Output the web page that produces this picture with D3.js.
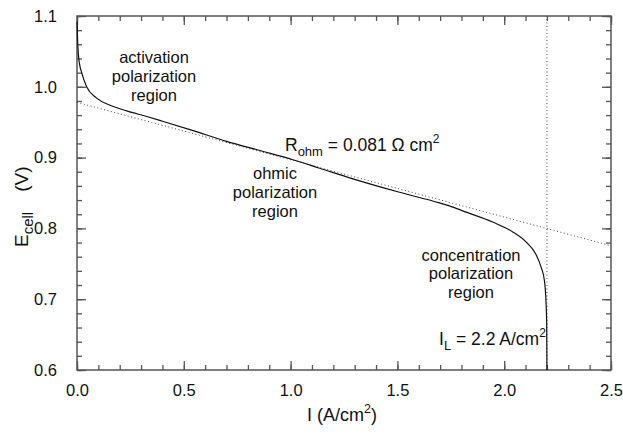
<!DOCTYPE html>
<html><head><meta charset="utf-8">
<script src="https://cdn.jsdelivr.net/npm/d3@7"></script>
<style>
body{margin:0;background:#fff;}
svg text{font-family:"Liberation Sans",Arial,sans-serif;fill:#111;}
</style></head><body>
<svg id="chart" width="623" height="434"></svg>
<script>
// Polarization curve: current density I (A/cm2), cell voltage E (V)
const currentI = [0.0005,0.002,0.006,0.012,0.022,0.045,0.092,0.155,0.233,0.327,0.404,0.544,0.700,0.856,1.011,1.136,1.292,1.510,1.697,1.759,1.822,1.946,2.040,2.102,2.149,2.173,2.188,2.196,2.199,2.2];
const cellE    = [1.092,1.074,1.048,1.032,1.020,1.000,0.984,0.974,0.966,0.958,0.951,0.938,0.923,0.910,0.897,0.885,0.870,0.851,0.836,0.830,0.823,0.809,0.795,0.781,0.763,0.745,0.727,0.694,0.666,0.6];
// Ohmic tangent line (R = 0.081 ohm cm2)
const ohmicI = [0, 2.5];
const ohmicE = [0.978, 0.7755];
// Limiting current line
const limitI = [2.2, 2.2];
const limitE = [0.6, 1.1];
const xTicks = [0, 0.5, 1.0, 1.5, 2.0, 2.5];
const yTicks = [0.6, 0.7, 0.8, 0.9, 1.0, 1.1];

const L = 77, R = 611, T = 16, B = 370;
const x = d3.scaleLinear().domain([0, 2.5]).range([L, R]);
const y = d3.scaleLinear().domain([0.6, 1.1]).range([B, T]);
const svg = d3.select("#chart");
const axisColor = "#555";

const xMinor = d3.range(0, 2.5001, 0.1).map(v => +v.toFixed(2));
const yMinor = d3.range(0.6, 1.1001, 0.02).map(v => +v.toFixed(2));

function styleAxis(g){
  g.select(".domain").remove();
  g.selectAll(".tick line").attr("stroke", axisColor).attr("stroke-width", 1.3);
}
function styleLabels(g){
  g.selectAll("text").attr("font-size", 16.5).attr("fill", "#111")
   .attr("font-family", "Liberation Sans, Arial, sans-serif");
}
svg.append("g").attr("transform", `translate(0,${B})`)
  .call(d3.axisBottom(x).tickValues(xMinor).tickSize(-5).tickFormat(""))
  .call(styleAxis);
svg.append("g").attr("transform", `translate(0,${B})`)
  .call(d3.axisBottom(x).tickValues(xTicks).tickSize(-9).tickPadding(14).tickFormat(d3.format(".1f")))
  .call(styleAxis).call(styleLabels);
svg.append("g").attr("transform", `translate(0,${T})`)
  .call(d3.axisTop(x).tickValues(xMinor).tickSize(-5).tickFormat("")).call(styleAxis);
svg.append("g").attr("transform", `translate(0,${T})`)
  .call(d3.axisTop(x).tickValues(xTicks).tickSize(-9).tickFormat("")).call(styleAxis);
svg.append("g").attr("transform", `translate(${L},0)`)
  .call(d3.axisLeft(y).tickValues(yMinor).tickSize(-5).tickFormat("")).call(styleAxis);
svg.append("g").attr("transform", `translate(${L},0)`)
  .call(d3.axisLeft(y).tickValues(yTicks).tickSize(-9).tickPadding(20).tickFormat(d3.format(".1f")))
  .call(styleAxis).call(styleLabels);
svg.append("g").attr("transform", `translate(${R},0)`)
  .call(d3.axisRight(y).tickValues(yMinor).tickSize(-5).tickFormat("")).call(styleAxis);
svg.append("g").attr("transform", `translate(${R},0)`)
  .call(d3.axisRight(y).tickValues(yTicks).tickSize(-9).tickFormat("")).call(styleAxis);

svg.append("rect").attr("x", L).attr("y", T).attr("width", R - L).attr("height", B - T)
  .attr("fill", "none").attr("stroke", axisColor).attr("stroke-width", 1.5);

const line2 = d3.line().x(d => x(d[0])).y(d => y(d[1]));
svg.append("path").datum(d3.zip(ohmicI, ohmicE)).attr("d", line2)
  .attr("fill", "none").attr("stroke", "#444").attr("stroke-width", 1).attr("stroke-dasharray", "1,2.5");
svg.append("path").datum(d3.zip(limitI, limitE)).attr("d", line2)
  .attr("fill", "none").attr("stroke", "#444").attr("stroke-width", 1).attr("stroke-dasharray", "1,2.5");

svg.append("path").datum(d3.zip(currentI, cellE))
  .attr("d", d3.line().x(d => x(d[0])).y(d => y(d[1])).curve(d3.curveMonotoneX))
  .attr("fill", "none").attr("stroke", "#111").attr("stroke-width", 1.2);

const fs = 16.5;
function block(lines, cx, y0, dy){
  lines.forEach((s, i) => svg.append("text").attr("x", cx).attr("y", y0 + i * dy)
    .attr("text-anchor", "middle").attr("font-size", fs).text(s));
}
block(["activation", "polarization", "region"], 154, 63, 18.8);
block(["ohmic", "polarization", "region"], 275, 179, 18.8);
block(["concentration", "polarization", "region"], 471, 260.5, 18.8);

const rt = svg.append("text").attr("x", 285).attr("y", 151).attr("font-size", 17.5);
rt.append("tspan").text("R");
rt.append("tspan").attr("dy", 5).attr("font-size", 13).text("ohm");
rt.append("tspan").attr("dy", -5).text(" = 0.081 \u03A9 cm");
rt.append("tspan").attr("dy", -8).attr("font-size", 12).text("2");

const il = svg.append("text").attr("x", 439).attr("y", 345).attr("font-size", 17.5);
il.append("tspan").text("I");
il.append("tspan").attr("dy", 5).attr("font-size", 13).text("L");
il.append("tspan").attr("dy", -5).text(" = 2.2 A/cm");
il.append("tspan").attr("dy", -8).attr("font-size", 12).text("2");

const xt = svg.append("text").attr("x", 307).attr("y", 421).attr("font-size", 18);
xt.append("tspan").text("I  (A/cm");
xt.append("tspan").attr("dy", -8).attr("font-size", 12.5).text("2");
xt.append("tspan").attr("dy", 8).text(")");

const yt = svg.append("text").attr("transform", "translate(28,247) rotate(-90)")
  .attr("text-anchor", "start").attr("font-size", 19);
yt.append("tspan").text("E");
yt.append("tspan").attr("dy", 5).attr("font-size", 15).text("cell");
yt.append("tspan").attr("dy", -5).attr("dx", 20).text("(V)");
</script>
</body></html>
